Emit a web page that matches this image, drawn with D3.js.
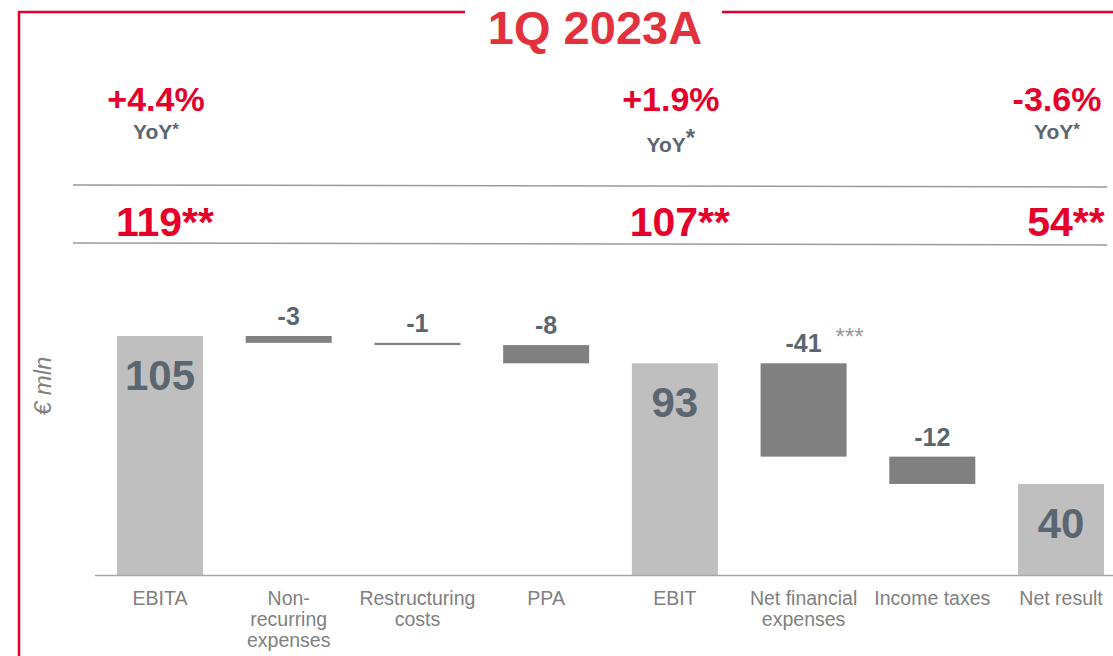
<!DOCTYPE html>
<html>
<head>
<meta charset="utf-8">
<script src="https://cdn.jsdelivr.net/npm/d3@7"></script>
<style>
  body { margin: 0; background: #fff; }
  svg { display: block; font-family: "Liberation Sans", Arial, sans-serif; }
</style>
</head>
<body>
<div id="wrapper"></div>
<script>
// data
const categories = ["EBITA", "Non-recurring expenses", "Restructuring costs", "PPA", "EBIT", "Net financial expenses", "Income taxes", "Net result"];
const categoryLines = [["EBITA"], ["Non-", "recurring", "expenses"], ["Restructuring", "costs"], ["PPA"], ["EBIT"], ["Net financial", "expenses"], ["Income taxes"], ["Net result"]];
const values = [105, -3, -1, -8, 93, -41, -12, 40];
const kinds = ["total", "delta", "delta", "delta", "total", "delta", "delta", "total"];
const notes = ["", "", "", "", "", "***", "", ""];

const headerCats = ["EBITA", "EBIT", "Net result"];
const yoyLabels = ["+4.4%", "+1.9%", "-3.6%"];
const adjustedLabels = ["119**", "107**", "54**"];
const title = "1Q 2023A";

function drawChart() {
  const width = 1113, height = 656;
  const red = "#e4002b", slate = "#5b6670", gray = "#808080";

  const svg = d3.select("#wrapper").append("svg")
    .attr("width", width)
    .attr("height", height);

  // waterfall steps
  let running = 0;
  const steps = categories.map((c, i) => {
    let start, end;
    if (kinds[i] === "total") { start = 0; end = values[i]; running = values[i]; }
    else { start = running; end = running + values[i]; running = end; }
    return { cat: c, lines: categoryLines[i], value: values[i], kind: kinds[i], note: notes[i], lo: Math.min(start, end), hi: Math.max(start, end) };
  });

  // scales
  const x = d3.scaleBand()
    .domain(categories)
    .range([95.6, 1125.4])
    .paddingInner(0.332)
    .paddingOuter(0.166);

  const y = d3.scaleLinear()
    .domain([0, 105])
    .range([575, 336]);

  // frame
  svg.append("line").attr("x1", 19).attr("x2", 19).attr("y1", 11).attr("y2", height)
    .attr("stroke", red).attr("stroke-width", 2.5);
  svg.append("line").attr("x1", 18).attr("x2", 465).attr("y1", 12).attr("y2", 12)
    .attr("stroke", red).attr("stroke-width", 2.5);
  svg.append("line").attr("x1", 722).attr("x2", width).attr("y1", 12).attr("y2", 12)
    .attr("stroke", red).attr("stroke-width", 2.5);
  svg.append("text")
    .attr("x", 595).attr("y", 44)
    .attr("text-anchor", "middle")
    .attr("font-size", 47).attr("font-weight", "bold")
    .attr("fill", "#e3303d")
    .text(title);

  // header rows
  const cx = c => x(c) + x.bandwidth() / 2;
  svg.selectAll(".yoy-pct").data(headerCats).join("text")
    .attr("class", "yoy-pct")
    .attr("x", d => cx(d) - 4).attr("y", 111)
    .attr("text-anchor", "middle")
    .attr("font-size", 34).attr("font-weight", "bold").attr("fill", red)
    .text((d, i) => yoyLabels[i]);

  const yoy = svg.selectAll(".yoy").data(headerCats).join("text")
    .attr("class", "yoy")
    .attr("x", d => cx(d) - 4)
    .attr("y", (d, i) => i === 1 ? 152 : 139)
    .attr("text-anchor", "middle")
    .attr("font-weight", "bold").attr("fill", slate);
  yoy.append("tspan").attr("font-size", 21).text("YoY");
  yoy.append("tspan")
    .attr("font-size", (d, i) => i === 1 ? 24 : 17)
    .attr("dy", (d, i) => i === 1 ? -6 : -4)
    .text("*");

  svg.append("line").attr("x1", 73).attr("x2", 1107).attr("y1", 185).attr("y2", 187)
    .attr("stroke", "#9a9a9a").attr("stroke-width", 1.5);
  svg.append("line").attr("x1", 73).attr("x2", 1107).attr("y1", 243).attr("y2", 245)
    .attr("stroke", "#9a9a9a").attr("stroke-width", 1.5);

  svg.selectAll(".adj").data(headerCats).join("text")
    .attr("class", "adj")
    .attr("x", d => cx(d) + 5).attr("y", 236)
    .attr("text-anchor", "middle")
    .attr("font-size", 41).attr("font-weight", "bold").attr("fill", red)
    .text((d, i) => adjustedLabels[i]);

  // y label
  svg.append("text")
    .attr("transform", "translate(51,386) rotate(-90)")
    .attr("text-anchor", "middle")
    .attr("font-size", 24).attr("font-style", "italic")
    .attr("fill", gray)
    .text("€ mln");

  // bars
  svg.selectAll(".bar").data(steps).join("rect")
    .attr("class", "bar")
    .attr("x", d => x(d.cat))
    .attr("width", x.bandwidth())
    .attr("y", d => y(d.hi))
    .attr("height", d => y(d.lo) - y(d.hi))
    .attr("fill", d => d.kind === "total" ? "#bfbfbf" : "#808080");

  // baseline
  svg.append("line").attr("x1", 95).attr("x2", width).attr("y1", 575.5).attr("y2", 575.5)
    .attr("stroke", "#a6a6a6").attr("stroke-width", 1.5);

  // total labels inside
  svg.selectAll(".total-label").data(steps.filter(d => d.kind === "total")).join("text")
    .attr("class", "total-label")
    .attr("x", d => cx(d.cat)).attr("y", d => y(d.hi) + 54)
    .attr("text-anchor", "middle")
    .attr("font-size", 42).attr("font-weight", "bold").attr("fill", slate)
    .text(d => d.value);

  // delta labels above
  const deltas = steps.filter(d => d.kind === "delta");
  svg.selectAll(".delta-label").data(deltas).join("text")
    .attr("class", "delta-label")
    .attr("x", d => cx(d.cat)).attr("y", d => y(d.hi) - 11)
    .attr("text-anchor", "middle")
    .attr("font-size", 25).attr("font-weight", "bold").attr("fill", slate)
    .text(d => d.value);
  svg.selectAll(".note").data(deltas.filter(d => d.note)).join("text")
    .attr("class", "note")
    .attr("x", d => cx(d.cat) + 32).attr("y", d => y(d.hi) - 18)
    .attr("font-size", 24).attr("fill", "#999")
    .text(d => d.note);

  // category labels
  const cats = svg.selectAll(".cat").data(steps).join("text")
    .attr("class", "cat")
    .attr("x", d => cx(d.cat)).attr("y", 605)
    .attr("text-anchor", "middle")
    .attr("font-size", 19.5).attr("fill", gray);
  cats.selectAll("tspan").data(d => d.lines).join("tspan")
    .attr("x", function () { return d3.select(this.parentNode).attr("x"); })
    .attr("dy", (d, i) => i === 0 ? 0 : 21)
    .text(d => d);
}
drawChart();
</script>
</body>
</html>
